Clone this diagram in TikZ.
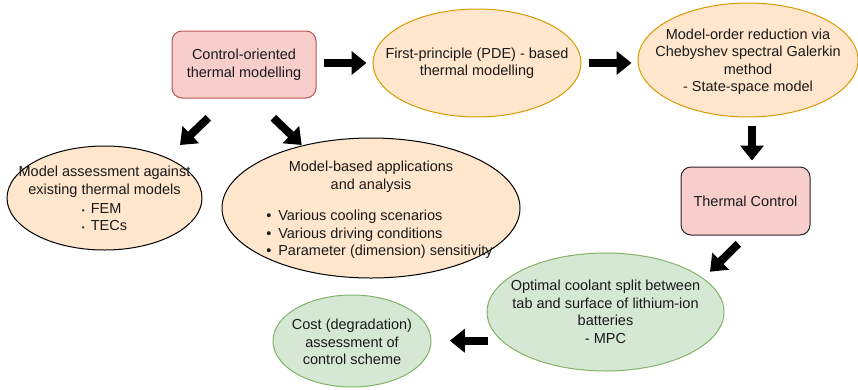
\documentclass[tikz,border=0pt]{standalone}
\usepackage{fontspec}
\setmainfont{Liberation Sans}
\usetikzlibrary{shapes.geometric,arrows.meta,calc}
\definecolor{pinkfill}{HTML}{F8CECC}
\definecolor{pinkdraw}{HTML}{B85450}
\definecolor{orfill}{HTML}{FFE6CC}
\definecolor{ordraw}{HTML}{D79B00}
\definecolor{grfill}{HTML}{D5E8D4}
\definecolor{grdraw}{HTML}{82B366}
\definecolor{txt}{HTML}{1A1A1A}
\newcommand{\bul}{\makebox[12pt][l]{•}}
\newcommand{\sbul}{\makebox[9pt][l]{{\fontsize{8}{8}\selectfont •}}}
\begin{document}
\begin{tikzpicture}[x=1pt,y=-1pt,
  lbl/.style={font=\fontsize{14.5}{17.5}\selectfont, text=txt, align=center, inner sep=0pt},
  rbox/.style={lbl, draw, rounded corners=10pt, line width=1pt},
  ell/.style={draw, ellipse, inner sep=0pt, line width=1pt},
  barrow/.style={line width=8pt, -{Triangle[width=23pt,length=15pt]}}]
\useasboundingbox (0,0) rectangle (858,389);

\node[rbox, fill=pinkfill, draw=pinkdraw, minimum width=144pt, minimum height=67pt] (ctrl) at (244,64.5)
  {Control-oriented\\thermal modelling};
\node[ell, fill=orfill, draw=ordraw, minimum width=208pt, minimum height=108pt] (fp) at (477,63) {};
\node[lbl] (fpt) at (fp.center) {First-principle (PDE) - based\\thermal modelling};
\node[ell, fill=orfill, draw=ordraw, minimum width=220pt, minimum height=114pt] (mor) at (748,60) {};
\node[lbl] (mort) at ([yshift=-1.5pt]mor.center) {Model-order reduction via\\Chebyshev spectral Galerkin\\method\\- State-space model};
\node[rbox, fill=pinkfill, draw=black!85, minimum width=129pt, minimum height=68pt] (tc) at (745.5,201)
  {Thermal Control};
\node[ell, fill=grfill, draw=grdraw, minimum width=237pt, minimum height=118pt] (opt) at (605.5,312) {};
\node[lbl] (optt) at (opt.center) {Optimal coolant split between\\tab and surface of lithium-ion\\batteries\\- MPC};
\node[ell, fill=grfill, draw=grdraw, minimum width=158pt, minimum height=92pt] (cost) at (352,341) {};
\node[lbl] (costt) at ([yshift=-1pt]cost.center) {Cost (degradation)\\assessment of\\control scheme};
\node[ell, fill=orfill, draw=black, minimum width=195pt, minimum height=104pt] (assess) at (104.5,198) {};
\node[lbl] (assesst) at ([yshift=-3pt]assess.center)
  {Model assessment against\\existing thermal models\\[1.5pt]
   \begin{tabular}[t]{@{}l@{}}\fontsize{14.5}{15}\selectfont\sbul FEM\\ \sbul TECs\end{tabular}};
\node[ell, fill=orfill, draw=black, minimum width=298pt, minimum height=140pt] (mba) at (371,208) {};
\node[lbl] (mbat) at ([yshift=-3pt]mba.center)
  {Model-based applications\\and analysis\\[14pt]
   \hspace*{17pt}\begin{tabular}[t]{@{}l@{}}\bul Various cooling scenarios\\ \bul Various driving conditions\\ \bul Parameter (dimension) sensitivity\end{tabular}};

\draw[barrow, shorten <=7pt, shorten >=6pt] (ctrl.east |- fp.west) -- (fp.west);
\draw[barrow, shorten <=7pt, shorten >=6pt] (fp.east) -- (mor.west |- fp.east);
\draw[barrow] ([xshift=4pt,yshift=-8pt]mor.south) -- ([xshift=6.5pt,yshift=6pt]tc.north);
\draw[barrow] ([xshift=-7.2pt,yshift=-8.3pt]tc.south) -- ([xshift=104.5pt,yshift=40.3pt]opt.center);
\draw[barrow] ([xshift=1.3pt,yshift=-28.7pt]opt.west) -- ([xshift=18.3pt,yshift=0.3pt]cost.east);
\draw[barrow] ([xshift=-35.7pt,yshift=-19.3pt]ctrl.south) -- ([xshift=75.5pt,yshift=53pt]assess.center);
\draw[barrow] ([xshift=29.3pt,yshift=-19.3pt]ctrl.south) -- ([xshift=-69.3pt,yshift=63pt]mba.center);
\end{tikzpicture}
\end{document}
